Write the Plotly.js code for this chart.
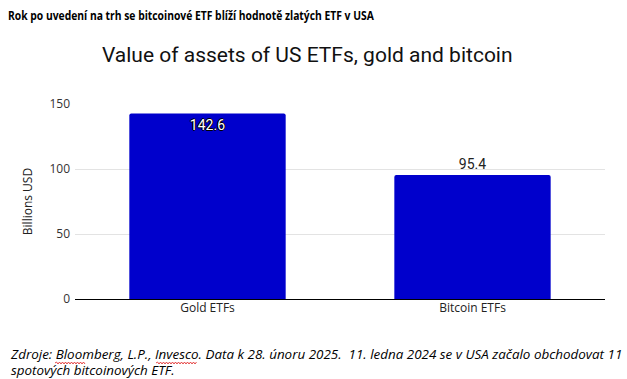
<!DOCTYPE html>
<html><head><meta charset="utf-8">
<script src="https://cdn.plot.ly/plotly-3.0.1.min.js"></script>
<style>body{margin:0;background:#fff}#c{width:627px;height:379px}</style>
</head><body><div id="c"></div>
<script>
const categories = ["Gold ETFs", "Bitcoin ETFs"];
const values = [142.6, 95.4];
const labels = ["142.6", "95.4"];
const yTicks = [0, 50, 100, 150];
const headerText = "Rok po uvedení na trh se bitcoinové ETF blíží hodnotě zlatých ETF v USA";
const noteLine1 = "Zdroje: Bloomberg, L.P., Invesco. Data k 28. únoru 2025.  11. ledna 2024 se v USA začalo obchodovat 11";
const noteLine2 = "spotových bitcoinových ETF.";

const L = 75, R = 22, T = 104, B = 80, W = 627, H = 379;
const PW = W - L - R, PH = H - T - B;
const px = x => (x - L) / PW;
const py = y => (H - B - y) / PH;

function squiggle(x0, x1, y) {
  let d = "M" + px(x0) + "," + py(y);
  let up = true;
  for (let x = x0 + 1.5; x <= x1; x += 1.5) {
    d += " L" + px(x) + "," + py(y + (up ? -1 : 1));
    up = !up;
  }
  return {type: "path", xref: "paper", yref: "paper", path: d, line: {color: "#e02020", width: 0.8}};
}

const trace = {
  type: "bar", x: categories, y: values, text: labels,
  textposition: ["inside", "outside"], insidetextanchor: "end",
  texttemplate: "%{text}", cliponaxis: false,
  marker: {color: "#0000cc", cornerradius: 2},
  insidetextfont: {family: "Roboto", size: 14, color: "#ffffff", shadow: "1px 0 0 #000, -1px 0 0 #000, 0 1px 0 #000, 0 -1px 0 #000"},
  outsidetextfont: {family: "Roboto", size: 14, color: "#222222"},
  hoverinfo: "none"
};
const layout = {
  width: W, height: H, margin: {l: L, r: R, t: T, b: B},
  paper_bgcolor: "#fff", plot_bgcolor: "#fff", bargap: 0.41, showlegend: false,
  title: {text: "Value of assets of US ETFs, gold and bitcoin", font: {family: "Roboto", size: 21, color: "#111"}, x: 0.49, xanchor: "center", y: 1 - 55 / H, yanchor: "middle"},
  xaxis: {tickfont: {family: "Open Sans", size: 12, color: "#222"}, ticks: "", showline: false, zeroline: false},
  yaxis: {range: [0, 150], tickvals: yTicks, ticktext: yTicks.map(String), tickfont: {family: "Open Sans", size: 12, color: "#333"},
    gridcolor: "#e3e3e3", zeroline: true, zerolinecolor: "#000", zerolinewidth: 1, ticks: "", ticklen: 0, ticklabelstandoff: 4,
    title: {text: "Billions USD", font: {family: "Open Sans", size: 12, color: "#222"}, standoff: 14}},
  shapes: [squiggle(55, 86, 363), squiggle(156, 197, 363)],
  annotations: [
    {text: "<b>" + headerText + "</b>", xref: "paper", yref: "paper", x: px(8), y: py(15), xanchor: "left", yanchor: "middle", showarrow: false, font: {family: "Open Sans", size: 13, color: "#000"}},
    {text: "<i>" + noteLine1 + "</i><br><i>" + noteLine2 + "</i>", xref: "paper", yref: "paper", x: px(10), y: py(362.5), xanchor: "left", yanchor: "middle", align: "left", showarrow: false, font: {family: "Open Sans", size: 12, color: "#000"}}
  ]
};
Plotly.newPlot("c", [trace], layout, {staticPlot: true, displayModeBar: false}).then(gd => {
  const texts = gd.querySelectorAll(".annotation-text");
  const host = gd.getBoundingClientRect();
  function fitScale(el, left, k) {
    const bb = el.getBBox();
    const t = el.getAttribute("transform") || "";
    const base = t + " translate(" + bb.x + ",0) scale(" + k + ",1) translate(" + (-bb.x) + ",0)";
    el.setAttribute("transform", base);
    const r = el.getBoundingClientRect();
    const dx = left - (r.left - host.left);
    el.setAttribute("transform", t + " translate(" + (bb.x + dx) + ",0) scale(" + k + ",1) translate(" + (-bb.x) + ",0)");
  }
  const hb = texts[0].getBBox();
  fitScale(texts[0], 8, 366 / hb.width);
  const lines = texts[1].querySelectorAll("tspan.line");
  let w1 = texts[1].getBBox().width;
  if (lines.length) w1 = Math.max(...Array.from(lines).map(l => l.getComputedTextLength()));
  fitScale(texts[1], 10, 612 / w1);
});
</script></body></html>
